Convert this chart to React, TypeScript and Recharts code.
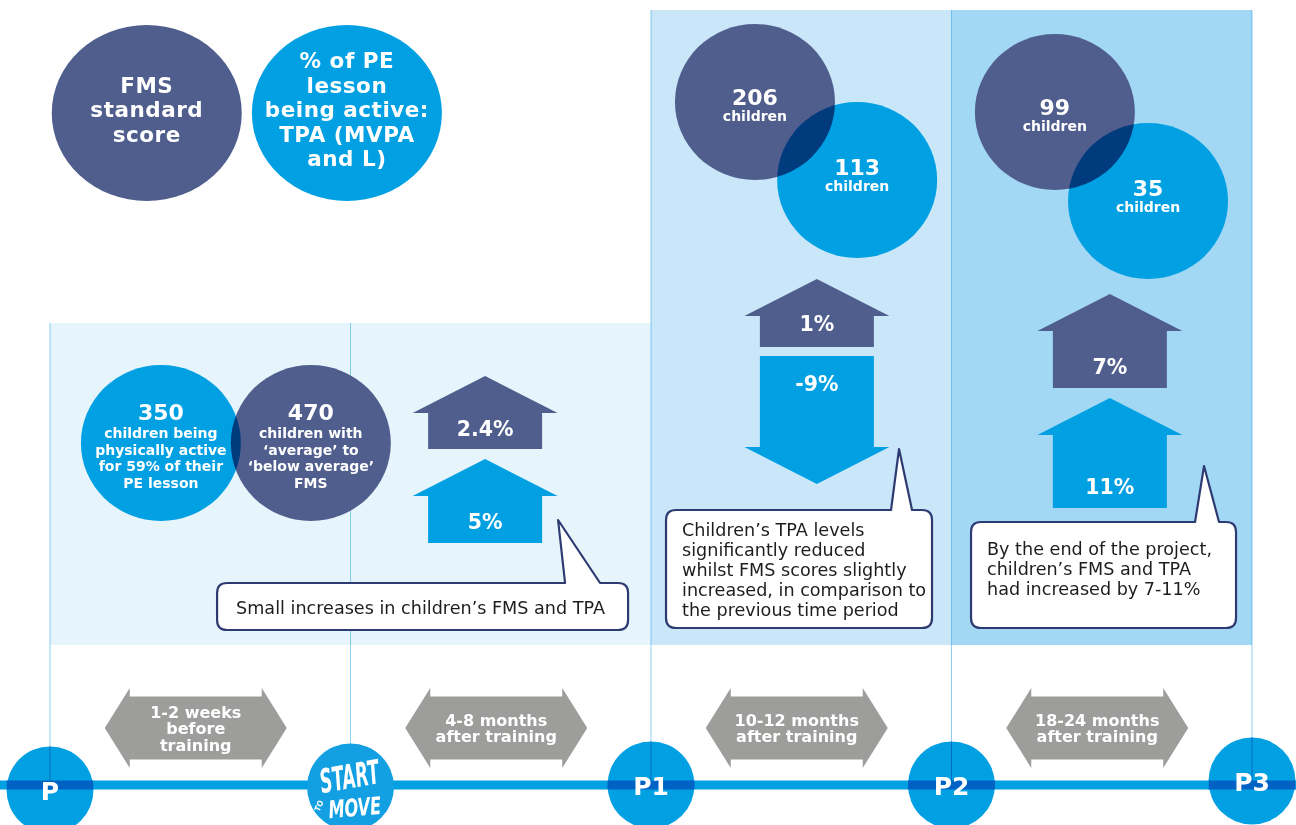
import React from 'react';
import { ComposedChart, XAxis, YAxis, Scatter, ReferenceArea, ReferenceLine } from 'recharts';

const HEAD = "'DejaVu Sans', 'Noto Sans', sans-serif";
const BODY = "'DejaVu Sans', 'Noto Sans', sans-serif";
const LOGO = "'DejaVu Sans Condensed', 'DejaVu Sans', sans-serif";
const FMS_COLOR = '#505e8e';
const TPA_COLOR = '#00a0e3';
const BAND = '#0062c4';
const GREY = '#9d9d9c';
const INK = '#1d1d1b';
const OUTLINE = '#2e3b72';

// timeline
const milestones = ['P', 'START TO MOVE', 'P1', 'P2', 'P3'];
const periods = [
  ['1-2 weeks', 'before', 'training'],
  ['4-8 months', 'after training'],
  ['10-12 months', 'after training'],
  ['18-24 months', 'after training'],
];

// legend bubbles
const legendFms = ['FMS', 'standard', 'score'];
const legendTpa = ['% of PE', 'lesson', 'being active:', 'TPA (MVPA', 'and L)'];

// number of children at P, P1, P2
const fmsChildren = [470, 206, 99];
const tpaChildren = [350, 113, 35];
const fmsChildrenText = [['children with', '‘average’ to', '‘below average’', 'FMS'], ['children'], ['children']];
const tpaChildrenText = [['children being', 'physically active', 'for 59% of their', 'PE lesson'], ['children'], ['children']];

// change (%) over each period after training
const fmsChange = [2.4, 1, 7];
const tpaChange = [5, -9, 11];

const notes = [
  ['Small increases in children’s FMS and TPA'],
  ['Children’s TPA levels', 'significantly reduced', 'whilst FMS scores slightly', 'increased, in comparison to', 'the previous time period'],
  ['By the end of the project,', 'children’s FMS and TPA', 'had increased by 7-11%'],
];

// ---- layout (x in milestone steps, y in px from top) ----
const STEP = 300.5;
const X_DOMAIN: [number, number] = [-50 / STEP, (1296 - 50) / STEP];
const TIMELINE_Y = 785;
const PANEL_BOTTOM = 645;
const milestoneY = [790, 787, 785, 785, 781];
const guideTop = [323, 323, 10, 10, 10];
const PERIOD_OFFSET = 0.485;
const PERIOD_Y = 728;
const panels = [
  { x1: 0, x2: 2, y1: 323, fill: '#e6f4fc' },
  { x1: 2, x2: 3, y1: 10, fill: '#c9e7f8' },
  { x1: 3, x2: 4, y1: 10, fill: '#a3d8f5' },
];
const legendPos = [{ x: 0.322, y: 113 }, { x: 0.988, y: 113 }];
const fmsBubblePos = [
  { x: 0.868, y: 443, numDy: -23, textDy: -5 },
  { x: 2.346, y: 102, numDy: 3, textDy: 19 },
  { x: 3.344, y: 112, numDy: 3, textDy: 19 },
];
const tpaBubblePos = [
  { x: 0.369, y: 443, numDy: -23, textDy: -5 },
  { x: 2.686, y: 180, numDy: -5, textDy: 11 },
  { x: 3.654, y: 201, numDy: -5, textDy: 11 },
];
const fmsArrowPos = [
  { x: 1.448, top: 376, len: 73, labelDy: 60 },
  { x: 2.552, top: 279, len: 68, labelDy: 52 },
  { x: 3.527, top: 294, len: 94, labelDy: 80 },
];
const tpaArrowPos = [
  { x: 1.448, top: 459, len: 84, labelDy: 70 },
  { x: 2.552, top: 356, len: 128, labelDy: 35 },
  { x: 3.527, top: 398, len: 110, labelDy: 96 },
];
const notePos = [
  { x: 0.556, y: 583, w: 411, h: 47, tail: [348, 341, -63, 383], tx: 19, ty: 31 },
  { x: 2.05, y: 510, w: 266, h: 118, tail: [225, 233, -61, 246], tx: 16, ty: 26 },
  { x: 3.065, y: 522, w: 265, h: 106, tail: [224, 233, -56, 248], tx: 16, ty: 33 },
];

const multiply = { mixBlendMode: 'multiply' as const };

const LegendBubble = ({ cx, cy, payload }: any) => {
  const lines: string[] = payload.lines;
  const lh = 24.5;
  const first = cy - ((lines.length - 1) * lh) / 2 + 4;
  return (
    <g>
      <ellipse cx={cx} cy={cy} rx={95} ry={88} fill={payload.color} style={multiply} />
      <text textAnchor="middle" fill="#fff" fontFamily={HEAD} fontWeight={700} fontSize={21.5} letterSpacing={0.5}>
        {lines.map((l, i) => (
          <tspan key={i} x={cx} y={first + i * lh}>{l}</tspan>
        ))}
      </text>
    </g>
  );
};

const Milestone = ({ cx, cy, payload }: any) => {
  const r = 43.5;
  if (payload.label === 'START TO MOVE') {
    return (
      <g fill="#fff" fontFamily={LOGO} fontWeight={700} fontStyle="italic">
        <circle cx={cx} cy={cy} r={r} fill="#12a0e2" />
        <text x={0} y={0} textAnchor="middle" fontSize={19}
          transform={`translate(${cx + 1} ${cy + 1}) rotate(-10) scale(1 1.75)`}>START</text>
        <text x={0} y={0} textAnchor="middle" fontSize={8} fontStyle="normal"
          transform={`translate(${cx - 29} ${cy + 20}) rotate(-65)`}>TO</text>
        <text x={0} y={0} textAnchor="middle" fontSize={18}
          transform={`translate(${cx + 5} ${cy + 29}) rotate(-5) scale(1 1.35)`}>MOVE</text>
      </g>
    );
  }
  const dy = TIMELINE_Y - cy;
  const hc = Math.sqrt(r * r - dy * dy);
  return (
    <g>
      <circle cx={cx} cy={cy} r={r} fill={TPA_COLOR} />
      <rect x={cx - hc} y={TIMELINE_Y - 4.5} width={hc * 2} height={9} fill={BAND} />
      <line x1={cx} x2={cx} y1={cy - r} y2={TIMELINE_Y} stroke="#0a6cc0" strokeWidth={1} />
      <text x={cx} y={cy + 10} textAnchor="middle" fill="#fff" fontFamily={HEAD} fontWeight={700} fontSize={25}>
        {payload.label}
      </text>
    </g>
  );
};

const PeriodArrow = ({ cx, cy, payload }: any) => {
  const half = 91, head = 25, hh = 40, sh = 31.5;
  const pts = [
    [cx - half, cy], [cx - half + head, cy - hh], [cx - half + head, cy - sh], [cx + half - head, cy - sh],
    [cx + half - head, cy - hh], [cx + half, cy], [cx + half - head, cy + hh], [cx + half - head, cy + sh],
    [cx - half + head, cy + sh], [cx - half + head, cy + hh],
  ];
  const lines: string[] = payload.lines;
  const first = cy - ((lines.length - 1) * 16.5) / 2 + 6;
  return (
    <g>
      <polygon points={pts.map((p) => p.join(',')).join(' ')} fill={GREY} />
      <text textAnchor="middle" fill="#fff" fontFamily={HEAD} fontWeight={700} fontSize={16}>
        {lines.map((l, i) => (
          <tspan key={i} x={cx} y={first + i * 16.5}>{l}</tspan>
        ))}
      </text>
    </g>
  );
};

const Bubble = ({ cx, cy, payload }: any) => (
  <ellipse cx={cx} cy={cy} rx={80} ry={78} fill={payload.color} style={multiply} />
);

const BubbleLabel = ({ cx, cy, payload }: any) => {
  const lines: string[] = payload.lines;
  return (
    <g fill="#fff" fontFamily={HEAD} fontWeight={700} textAnchor="middle">
      <text x={cx} y={cy + payload.numDy} fontSize={22}>{payload.value}</text>
      <text fontSize={14}>
        {lines.map((l, i) => (
          <tspan key={i} x={cx} y={cy + payload.textDy + i * 16.5}>{l}</tspan>
        ))}
      </text>
    </g>
  );
};

const ChangeArrow = ({ cx, cy, payload }: any) => {
  const { value, len, labelDy, color } = payload;
  const HW = 72.5, BW = 57, ROOF = 37;
  let pts: number[][];
  if (value >= 0) {
    const e = cy + ROOF, b = cy + len;
    pts = [[cx, cy], [cx + HW, e], [cx + BW, e], [cx + BW, b], [cx - BW, b], [cx - BW, e], [cx - HW, e]];
  } else {
    const b = cy + len, e = b - ROOF;
    pts = [[cx - BW, cy], [cx + BW, cy], [cx + BW, e], [cx + HW, e], [cx, b], [cx - HW, e], [cx - BW, e]];
  }
  return (
    <g>
      <polygon points={pts.map((p) => p.join(',')).join(' ')} fill={color} style={multiply} />
      <text x={cx} y={cy + labelDy} textAnchor="middle" fill="#fff" fontFamily={HEAD} fontWeight={700} fontSize={20.5}>
        {`${value}%`}
      </text>
    </g>
  );
};

const Note = ({ cx, cy, payload }: any) => {
  const { w, h, tail, tx, ty } = payload;
  const lines: string[] = payload.lines;
  const r = 10;
  const x1 = cx, y1 = cy, x2 = cx + w, y2 = cy + h;
  const d = `M${x1 + r},${y1} L${x1 + tail[0]},${y1} L${x1 + tail[1]},${y1 + tail[2]} L${x1 + tail[3]},${y1} L${x2 - r},${y1} Q${x2},${y1} ${x2},${y1 + r} L${x2},${y2 - r} Q${x2},${y2} ${x2 - r},${y2} L${x1 + r},${y2} Q${x1},${y2} ${x1},${y2 - r} L${x1},${y1 + r} Q${x1},${y1} ${x1 + r},${y1} Z`;
  return (
    <g>
      <path d={d} fill="#fff" stroke={OUTLINE} strokeWidth={2.2} strokeLinejoin="round" />
      <text fill={INK} fontFamily={BODY} fontSize={17.6}>
        {lines.map((l, i) => (
          <tspan key={i} x={x1 + tx} y={y1 + ty + i * 20}>{l}</tspan>
        ))}
      </text>
    </g>
  );
};

export default function App() {
  const legendRows = [
    { ...legendPos[0], lines: legendFms, color: FMS_COLOR },
    { ...legendPos[1], lines: legendTpa, color: TPA_COLOR },
  ];
  const milestoneRows = milestones.map((label, i) => ({ x: i, y: milestoneY[i], label }));
  const periodRows = periods.map((lines, i) => ({ x: i + PERIOD_OFFSET, y: PERIOD_Y, lines }));
  const bubbleRows = [
    ...tpaChildren.map((v, i) => ({ ...tpaBubblePos[i], value: v, lines: tpaChildrenText[i], color: TPA_COLOR })),
    ...fmsChildren.map((v, i) => ({ ...fmsBubblePos[i], value: v, lines: fmsChildrenText[i], color: FMS_COLOR })),
  ];
  const changeRows = [
    ...fmsChange.map((v, i) => ({ x: fmsArrowPos[i].x, y: fmsArrowPos[i].top, len: fmsArrowPos[i].len, labelDy: fmsArrowPos[i].labelDy, value: v, color: FMS_COLOR })),
    ...tpaChange.map((v, i) => ({ x: tpaArrowPos[i].x, y: tpaArrowPos[i].top, len: tpaArrowPos[i].len, labelDy: tpaArrowPos[i].labelDy, value: v, color: TPA_COLOR })),
  ];
  const noteRows = notes.map((lines, i) => ({ ...notePos[i], lines }));

  return (
    <div style={{ width: 1296, height: 825, background: '#fff' }}>
      <style>{'body{margin:0;}'}</style>
      <ComposedChart width={1296} height={825} margin={{ top: 0, right: 0, bottom: 0, left: 0 }}>
        <XAxis type="number" dataKey="x" domain={X_DOMAIN} allowDataOverflow hide />
        <YAxis type="number" dataKey="y" domain={[0, 825]} reversed allowDataOverflow hide />
        {panels.map((p, i) => (
          <ReferenceArea key={`panel-${i}`} x1={p.x1} x2={p.x2} y1={p.y1} y2={PANEL_BOTTOM}
            fill={p.fill} fillOpacity={1} stroke="none" zIndex={-90} />
        ))}
        <ReferenceLine y={TIMELINE_Y} stroke="#00a0e3" strokeWidth={9} zIndex={-80} />
        {milestones.map((m, i) => (
          <ReferenceLine key={`guide-${m}`} segment={[{ x: i, y: guideTop[i] }, { x: i, y: TIMELINE_Y }]}
            stroke="#0a93e0" strokeOpacity={0.45} strokeWidth={1} zIndex={-70} />
        ))}
        <Scatter data={legendRows} shape={LegendBubble} isAnimationActive={false} zIndex={600} />
        <Scatter data={milestoneRows} shape={Milestone} isAnimationActive={false} zIndex={601} />
        <Scatter data={periodRows} shape={PeriodArrow} isAnimationActive={false} zIndex={602} />
        <Scatter data={bubbleRows} shape={Bubble} isAnimationActive={false} zIndex={603} />
        <Scatter data={bubbleRows} shape={BubbleLabel} isAnimationActive={false} zIndex={604} />
        <Scatter data={changeRows} shape={ChangeArrow} isAnimationActive={false} zIndex={605} />
        <Scatter data={noteRows} shape={Note} isAnimationActive={false} zIndex={606} />
      </ComposedChart>
    </div>
  );
}
